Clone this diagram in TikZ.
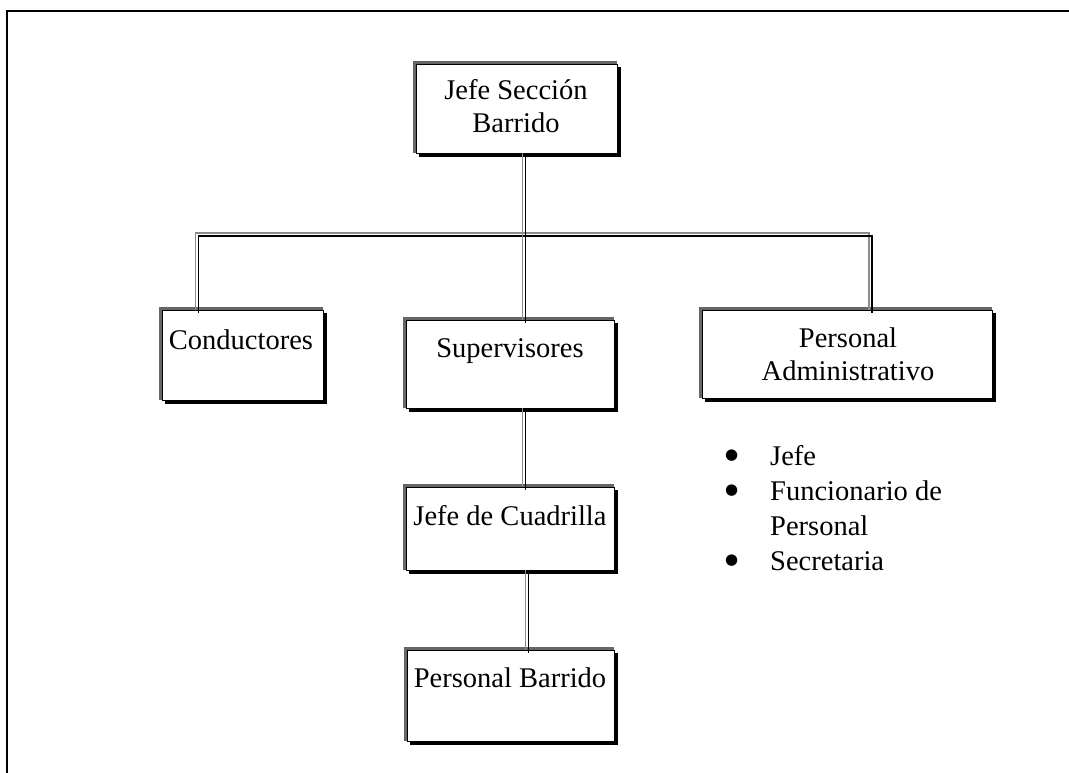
\documentclass[tikz,border=0pt]{standalone}
\usepackage{fontspec}
\setmainfont{Liberation Serif}
\newfontfamily\symfont{DejaVu Sans}
\newcommand\shadowdeco[1]{%
  \draw[bandgray] ([xshift=-1.5pt]#1.south west) -- ([xshift=-1.5pt,yshift=1.5pt]#1.north west) -- ([yshift=1.5pt]#1.north east);
  \draw[bandblack] ([xshift=1.75pt,yshift=-3pt]#1.north east) -- ([xshift=1.75pt,yshift=-1.75pt]#1.south east) -- ([xshift=3pt,yshift=-1.75pt]#1.south west);
}
\newcommand\bigbullet{\raisebox{5.5pt}{\symfont\fontsize{15}{15}\selectfont ●}}
\begin{document}
\begin{tikzpicture}[x=1pt,y=-1pt,
  box/.style={draw=black, line width=0.8pt, fill=white, inner sep=0pt},
  bandgray/.style={draw=black!60, line width=3pt},
  bandblack/.style={draw=black, line width=3.5pt},
  txt/.style={font=\fontsize{28.5}{33}\selectfont, inner sep=0pt, anchor=base},
  conn/.style={draw=black!45, line width=1.7pt,
    postaction={draw=black, line width=1.2pt, transform canvas={shift={(3pt,-3pt)}}}},
  frame/.style={draw=black, line width=2pt}]
\useasboundingbox (0,0) rectangle (1069,773);
\draw[frame] (7,773) -- (7,11) -- (1069,11);

% boxes
\node[box, minimum width=201pt, minimum height=89pt] (jefe) at (516.5,108.5) {};
\node[box, minimum width=161pt, minimum height=90pt] (cond) at (242.5,355) {};
\node[box, minimum width=208pt, minimum height=88pt] (sup) at (510,364) {};
\node[box, minimum width=290pt, minimum height=88pt] (padm) at (847,354) {};
\node[box, minimum width=208pt, minimum height=83pt] (cuad) at (510,528.5) {};
\node[box, minimum width=207pt, minimum height=91pt] (barr) at (510.5,695.5) {};
\shadowdeco{jefe}
\shadowdeco{cond}
\shadowdeco{sup}
\shadowdeco{padm}
\shadowdeco{cuad}
\shadowdeco{barr}

% texts
\node[txt] (tjefe) at (516,100) {\begin{tabular}[t]{@{}c@{}}Jefe Sección\\Barrido\end{tabular}};
\node[txt] (tcond) at (241,349) {Conductores};
\node[txt] (tsup) at (510,357) {Supervisores};
\node[txt] (tpadm) at (848,347) {\begin{tabular}[t]{@{}c@{}}Personal\\Administrativo\end{tabular}};
\node[txt] (tcuad) at (510,525) {Jefe de Cuadrilla};
\node[txt] (tbarr) at (510,687) {Personal Barrido};

% bullet list
\node[txt, anchor=base west, font=\fontsize{28.5}{35}\selectfont] (list) at (725,465)
  {\begin{tabular}[t]{@{}p{45pt}@{}l@{}}\bigbullet & Jefe\\ \bigbullet & Funcionario de\\ & Personal\\ \bigbullet & Secretaria\end{tabular}};

% connectors
\coordinate (busL) at (195.5,233);
\coordinate (busR) at (869,233);
\coordinate (busM) at (522.5,233);
\coordinate (lowM) at (525.5,610);
\draw[conn] (busL |- cond.north) -- (busL) -- (busR) -- (busR |- padm.north);
\draw[conn] (busM |- jefe.south) -- (busM |- sup.north);
\draw[conn] (busM |- sup.south) -- (busM |- cuad.north);
\draw[conn] (lowM |- cuad.south) -- (lowM |- barr.north);
\end{tikzpicture}
\end{document}
